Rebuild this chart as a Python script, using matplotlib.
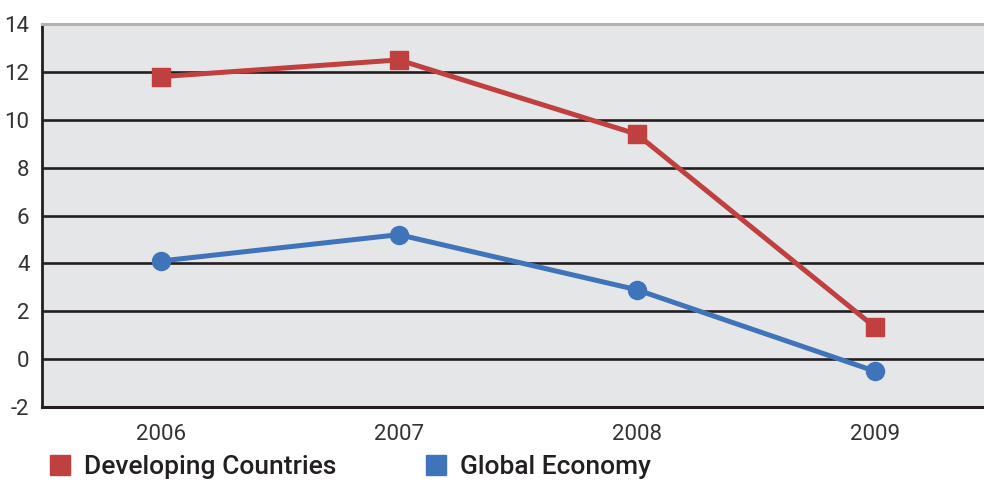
import matplotlib
matplotlib.use("Agg")
import matplotlib.pyplot as plt
from matplotlib.lines import Line2D

years = ["2006", "2007", "2008", "2009"]
developing = [11.8, 12.5, 9.4, 1.35]
global_econ = [4.1, 5.2, 2.9, -0.5]
yticks = [-2, 0, 2, 4, 6, 8, 10, 12, 14]

RED = "#c0403f"
BLUE = "#3f74bb"
DARK = "#231f20"
BG = "#e5e6e8"

plt.rcParams['font.family'] = ['Roboto', 'DejaVu Sans']

fig = plt.figure(figsize=(9.84, 4.82), dpi=100)
ax = fig.add_axes([42/984, 1-407/482, 942/984, 383/482])
ax.set_facecolor(BG)

x = list(range(len(years)))
ax.set_xlim(-0.5, 3.46)
ax.set_ylim(-2, 14)

for v in yticks[1:-1]:
    ax.axhline(v, color=DARK, lw=1.9, zorder=1)

ax.plot(x, developing, color=RED, lw=3.6, marker='s', ms=13, zorder=3,
        label="Developing Countries")
ax.plot(x, global_econ, color=BLUE, lw=3.6, marker='o', ms=13, zorder=3,
        label="Global Economy")

ax.spines['right'].set_visible(False)
ax.spines['top'].set_color("#b3b3b5")
ax.spines['top'].set_linewidth(2.2)
ax.spines['left'].set_color(DARK)
ax.spines['left'].set_linewidth(2.0)
ax.spines['bottom'].set_color(DARK)
ax.spines['bottom'].set_linewidth(2.2)

ax.set_yticks(yticks)
ax.set_yticklabels([str(v) for v in yticks])
ax.set_xticks(x)
ax.set_xticklabels(years)
ax.tick_params(axis='both', length=0, labelsize=16, labelcolor="#333333")
ax.tick_params(axis='y', pad=9)
ax.tick_params(axis='x', pad=12)

handles = [Line2D([], [], color=RED, marker='s', ms=14, lw=0),
           Line2D([], [], color=BLUE, marker='s', ms=14, lw=0)]
leg = fig.legend(handles, ["Developing Countries", "Global Economy"],
                 loc='lower left', bbox_to_anchor=(0.026, -0.044), ncol=2,
                 frameon=False, handlelength=0.8, handletextpad=0.5,
                 columnspacing=3.4,
                 prop={'size': 19, 'weight': 'medium'})
for t in leg.get_texts():
    t.set_color(DARK)

fig.savefig("out.png", dpi=100)
